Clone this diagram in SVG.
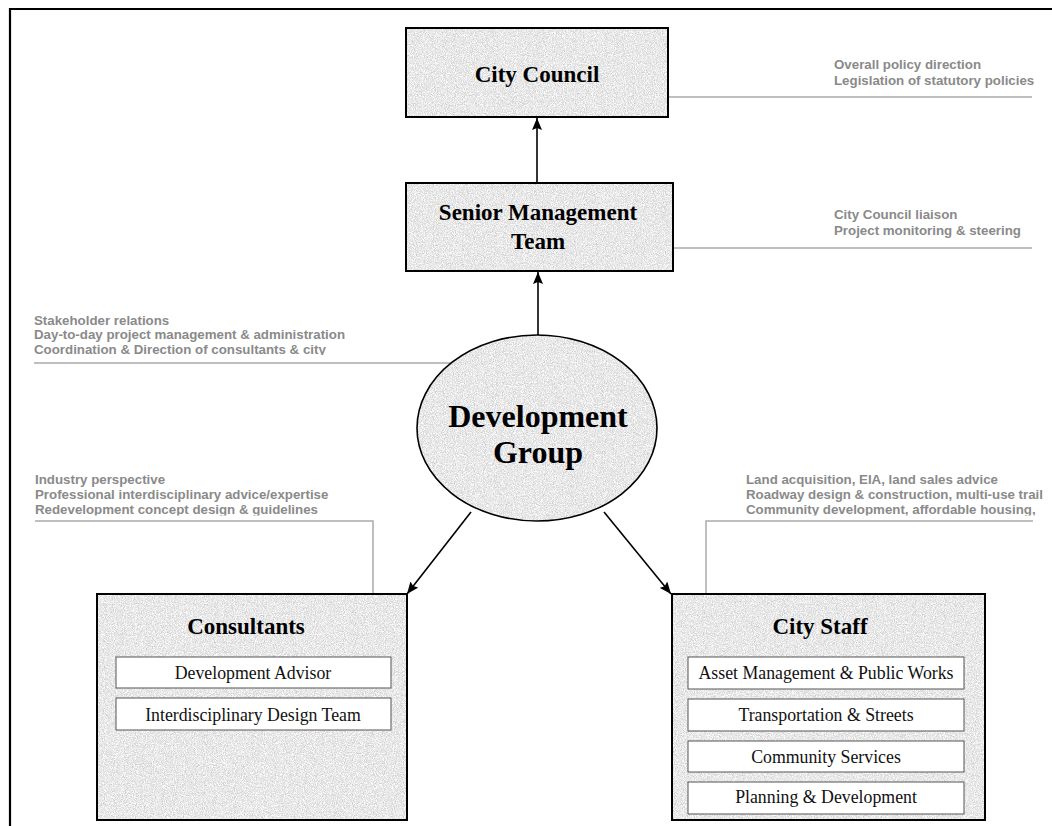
<svg xmlns="http://www.w3.org/2000/svg" width="1052" height="826" viewBox="0 0 1052 826">
<style>
.box{stroke:#000;stroke-width:2;fill:#e6e6e6}
.tex{filter:url(#granite)}
.title{font-family:"Liberation Serif","Times New Roman",serif;font-weight:bold;fill:#000;text-anchor:middle}
.item{font-family:"Liberation Serif","Times New Roman",serif;font-size:17.8px;fill:#111;text-anchor:middle}
.sub{fill:#fff;stroke:#555;stroke-width:1}
.note{font-family:"Liberation Sans",Arial,sans-serif;font-weight:bold;font-size:13.3px;fill:#8a8a8a}
.lead{fill:none;stroke:#aaa;stroke-width:1.5}
.conn{stroke:#000;stroke-width:1.6;fill:none;marker-end:url(#arr)}
</style>
<defs>
<filter id="granite" x="0" y="0" width="1" height="1" color-interpolation-filters="sRGB">
<feTurbulence type="fractalNoise" baseFrequency="1.1" numOctaves="2" seed="4" result="n"/>
<feColorMatrix in="n" type="matrix" values="0.38 0 0 0 0.72  0.38 0 0 0 0.72  0.38 0 0 0 0.72  0 0 0 0 1" result="g"/>
<feComposite in="g" in2="SourceGraphic" operator="in"/>
</filter>
<marker id="arr" viewBox="0 0 12 10" refX="12" refY="5" markerWidth="12" markerHeight="10" markerUnits="userSpaceOnUse" orient="auto">
<path d="M0,0 L12,5 L0,10 L2,5 z" fill="#000"/>
</marker>
<clipPath id="c1"><rect x="0" y="0" width="1052" height="355"/></clipPath>
<clipPath id="c2"><rect x="0" y="0" width="1052" height="515.5"/></clipPath>
</defs>
<rect width="1052" height="826" fill="#fff"/>
<!-- frame -->
<path d="M10,826 V9 H1052" fill="none" stroke="#000" stroke-width="2.2"/>

<g id="annotations">
<g id="note-council">
<text class="note" x="834" y="69">Overall policy direction</text>
<text class="note" x="834" y="85">Legislation of statutory policies</text>
<path class="lead" d="M668,97 H1032"/>
</g>
<g id="note-smt">
<text class="note" x="834" y="219">City Council liaison</text>
<text class="note" x="834" y="235">Project monitoring &amp; steering</text>
<path class="lead" d="M673,248 H1032"/>
</g>
<g id="note-dg" clip-path="url(#c1)">
<text class="note" x="34" y="325">Stakeholder relations</text>
<text class="note" x="34" y="339">Day-to-day project management &amp; administration</text>
<text class="note" x="34" y="353.5">Coordination &amp; Direction of consultants &amp; city</text>
</g>
<path class="lead" d="M34,363 H452"/>
<g id="note-consult" clip-path="url(#c2)">
<text class="note" x="35" y="484">Industry perspective</text>
<text class="note" x="35" y="499">Professional interdisciplinary advice/expertise</text>
<text class="note" x="35" y="514">Redevelopment concept design &amp; guidelines</text>
</g>
<path class="lead" d="M35,521 H373 V594"/>
<g id="note-staff" clip-path="url(#c2)">
<text class="note" x="746" y="484">Land acquisition, EIA, land sales advice</text>
<text class="note" x="746" y="499">Roadway design &amp; construction, multi-use trail</text>
<text class="note" x="746" y="514">Community development, affordable housing,</text>
</g>
<path class="lead" d="M1033,521 H706 V594"/>
</g>

<g id="connectors">
<path class="conn" d="M537,183 V118"/>
<path class="conn" d="M538,335 V272"/>
<path class="conn" d="M471,512 L407,594"/>
<path class="conn" d="M604,512 L671,594"/>
</g>

<g id="city-council">
<rect class="box" x="406" y="28" width="262" height="89"/>
<rect class="tex" x="407" y="29" width="260" height="87" fill="#000"/>
<text class="title" x="537" y="82" font-size="23">City Council</text>
</g>

<g id="senior-management">
<rect class="box" x="406" y="183" width="267" height="88"/>
<rect class="tex" x="407" y="184" width="265" height="86" fill="#000"/>
<text class="title" x="538" y="220" font-size="23">Senior Management</text>
<text class="title" x="538" y="249" font-size="23">Team</text>
</g>

<g id="development-group">
<ellipse cx="537" cy="428" rx="120" ry="93" fill="#e6e6e6"/>
<ellipse class="tex" cx="537" cy="428" rx="120" ry="93" fill="#000"/>
<ellipse cx="537" cy="428" rx="120" ry="93" fill="none" stroke="#000" stroke-width="1.6"/>
<text class="title" x="538" y="427" font-size="32">Development</text>
<text class="title" x="538" y="463" font-size="32">Group</text>
</g>

<g id="consultants">
<rect class="box" x="97" y="594" width="310" height="226"/>
<rect class="tex" x="98" y="595" width="308" height="224" fill="#000"/>
<text class="title" x="246" y="634" font-size="23">Consultants</text>
<rect class="sub" x="116" y="657" width="275" height="31"/>
<text class="item" x="253" y="679">Development Advisor</text>
<rect class="sub" x="116" y="698" width="275" height="32"/>
<text class="item" x="253" y="721">Interdisciplinary Design Team</text>
</g>

<g id="city-staff">
<rect class="box" x="672" y="594" width="313" height="226"/>
<rect class="tex" x="673" y="595" width="311" height="224" fill="#000"/>
<text class="title" x="820" y="634" font-size="23">City Staff</text>
<rect class="sub" x="688" y="657" width="276" height="32"/>
<text class="item" x="826" y="679">Asset Management &amp; Public Works</text>
<rect class="sub" x="688" y="699" width="276" height="32"/>
<text class="item" x="826" y="721">Transportation &amp; Streets</text>
<rect class="sub" x="688" y="741" width="276" height="31"/>
<text class="item" x="826" y="763">Community Services</text>
<rect class="sub" x="688" y="782" width="276" height="32"/>
<text class="item" x="826" y="803">Planning &amp; Development</text>
</g>
</svg>
